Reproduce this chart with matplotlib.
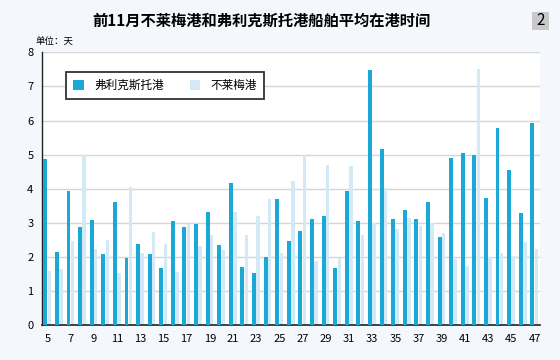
import numpy as np
import matplotlib.pyplot as plt
from matplotlib.patches import Rectangle

plt.rcParams['font.family'] = ['Noto Sans CJK SC', 'DejaVu Sans']

# weekly averages, days in port
weeks = np.arange(5, 48)
felixstowe = [4.88, 2.14, 3.94, 2.89, 3.08, 2.08, 3.60, 1.98, 2.38, 2.10,
              1.68, 3.05, 2.89, 2.97, 3.33, 2.35, 4.18, 1.71, 1.53, 2.01,
              3.69, 2.47, 2.77, 3.11, 3.20, 1.68, 3.94, 3.07, 7.49, 5.18,
              3.11, 3.38, 3.11, 3.60, 2.59, 4.91, 5.04, 4.99, 3.72, 5.79,
              4.55, 3.29, 5.93]
bremerhaven = [1.60, 1.66, 2.48, 5.00, 2.25, 2.50, 1.53, 4.06, 2.13, 2.73,
               2.38, 1.56, 2.96, 2.32, 2.64, 2.22, 3.33, 2.64, 3.20, 3.71,
               2.13, 4.22, 4.98, 1.88, 4.69, 1.98, 4.66, 2.64, 2.99, 4.01,
               2.82, 3.15, 2.92, 3.00, 2.71, 1.95, 1.74, 7.50, 1.99, 2.13,
               2.03, 2.45, 2.25]
xticks = np.arange(5, 48, 2)
yticks = np.arange(0, 9)

dark = '#1ba8d6'
light = '#d4e9f6'
bg = '#f4f8fc'

fig = plt.figure(figsize=(5.6, 3.6), dpi=100, facecolor=bg)
ax = fig.add_axes([0.0745, 0.0964, 0.8895, 0.7583])
ax.set_facecolor('white')

ax.bar(weeks - 0.19, felixstowe, width=0.34, color=dark, label='弗利克斯托港', zorder=3)
ax.bar(weeks + 0.16, bremerhaven, width=0.30, color=light, label='不莱梅港', zorder=2)

ax.set_xlim(4.5, 47.46)
ax.set_ylim(0, 8)
ax.set_xticks(xticks)
ax.set_yticks(yticks)
ax.tick_params(length=0, labelsize=8, pad=6)
ax.yaxis.grid(True, color='#d6d6d6', linewidth=1, zorder=0)
for s in ['top', 'right']:
    ax.spines[s].set_visible(False)
ax.spines['left'].set_color('#222222')
ax.spines['bottom'].set_color('#222222')
ax.spines['left'].set_linewidth(1)
ax.spines['bottom'].set_linewidth(1.2)

leg = ax.legend(loc='center', bbox_to_anchor=(0.295, 0.762), bbox_transform=fig.transFigure,
                ncol=2, frameon=True, fancybox=False, fontsize=8.4,
                handlelength=0.9, handleheight=0.9, columnspacing=2.2,
                handletextpad=0.9, borderpad=0.6, borderaxespad=0)
leg.get_frame().set_edgecolor('#333333')
leg.get_frame().set_linewidth(1.3)
leg.get_frame().set_facecolor('white')
leg.get_frame().set_alpha(1)

fig.text(0.467, 0.944, '前11月不莱梅港和弗利克斯托港船舶平均在港时间',
         ha='center', va='center', fontsize=11, fontweight='bold')
fig.text(0.063, 0.883, '单位：天', ha='left', va='center', fontsize=6.8)

fig.patches.append(Rectangle((0.9495, 0.9167), 0.0315, 0.0508, transform=fig.transFigure,
                             facecolor='#c9c9c9', edgecolor='none'))
fig.text(0.9652, 0.942, '2', ha='center', va='center', fontsize=11)

fig.savefig('out.png', dpi=100, facecolor=bg)
